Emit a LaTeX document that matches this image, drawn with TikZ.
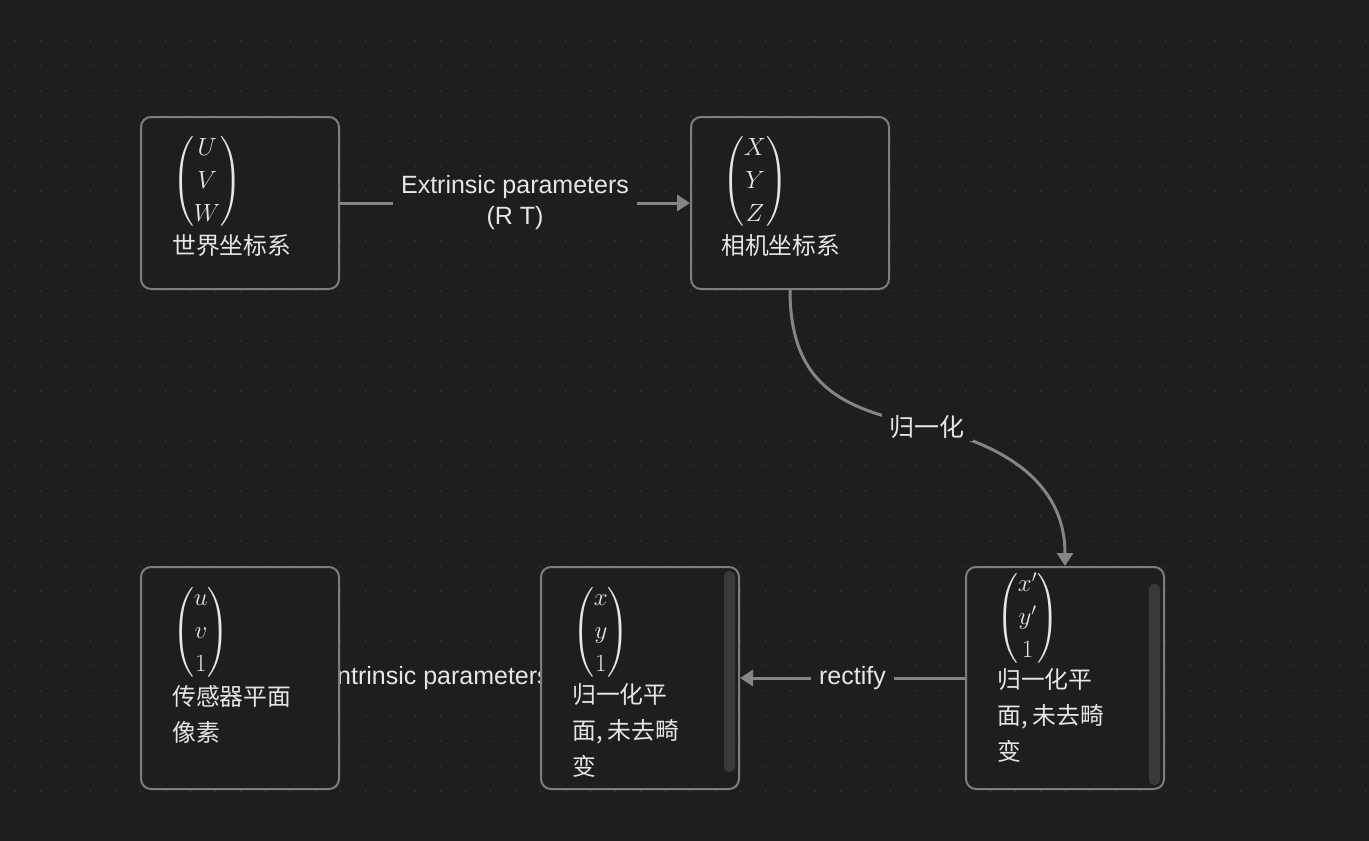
\documentclass[tikz,border=0pt]{standalone}
\usepackage{amsmath}
\usepackage{fontspec}
\setmainfont{Liberation Sans}
\newfontfamily\cjk{Noto Sans CJK SC}
\usetikzlibrary{arrows.meta}
\pgfdeclarelayer{back}
\pgfdeclarelayer{edges}
\pgfsetlayers{back,edges,main}
\definecolor{bgc}{HTML}{1E1E1E}
\definecolor{dotc}{HTML}{333333}
\definecolor{boxc}{HTML}{7E7E7E}
\definecolor{linec}{HTML}{858585}
\definecolor{txtc}{HTML}{E6E6E6}
\definecolor{barc}{HTML}{3A3A3A}
\newcommand\colvec[3]{\delimitershortfall=12pt\relax
  $\begin{pmatrix}#1\\#2\\#3\end{pmatrix}$}
\begin{document}
\begin{tikzpicture}[x=1pt,y=-1pt,line join=round,
    box/.style={draw=boxc,fill=bgc,line width=2pt,rounded corners=10pt,
      minimum width=198pt,minimum height=172pt,inner sep=0pt},
    tallbox/.style={box,minimum height=222pt},
    vecnode/.style={anchor=west,inner sep=0pt,text=txtc,
      font=\fontsize{25}{33}\selectfont},
    boxtext/.style={anchor=north west,inner sep=0pt,align=left,text=txtc,
      font=\cjk\fontsize{23.8}{36}\selectfont},
    link/.style={draw=linec,line width=3pt,-{Triangle[length=13pt,width=16pt]}},
    lbl/.style={fill=bgc,text=txtc,inner xsep=8pt,inner ysep=2pt,align=center,
      font=\fontsize{25}{31}\selectfont}]
  \useasboundingbox (0,0) rectangle (1369,841);
  \begin{pgfonlayer}{back}
    \fill[bgc] (0,0) rectangle (1369,841);
    \foreach \i in {0,...,54}
      \foreach \j in {0,...,32}
        \fill[dotc] (15.5+25*\i,16+25*\j) circle (1.1);
  \end{pgfonlayer}

  % boxes
  \node[box] (world) at (240,203) {};
  \node[box] (cam) at (790,203) {};
  \node[tallbox] (sensor) at (240,678) {};
  \node[tallbox] (norm) at (640,678) {};
  \node[tallbox] (dist) at (1065,678) {};
  \fill[barc,rounded corners=5pt] (724,571) rectangle (735,772);
  \fill[barc,rounded corners=5pt] (1149,584) rectangle (1160,785);

  \node[vecnode] (worldvec) at (172,181.5) {\colvec{U}{V}{W}};
  \node[boxtext] (worldtxt) at (172,229.5) {\strut 世界坐标系};
  \node[vecnode] (camvec) at (722,181.5) {\colvec{X}{Y}{Z}};
  \node[boxtext] (camtxt) at (721,229.5) {\strut 相机坐标系};
  \node[vecnode] (sensorvec) at (172,632) {\colvec{u}{v}{1}};
  \node[boxtext] (sensortxt) at (172,680.5) {\strut 传感器平面\\像素};
  \node[vecnode] (normvec) at (572,632) {\colvec{x}{y}{1}};
  \node[boxtext] (normtxt) at (572,678.5) {\strut 归一化平\\面, 未去畸\\变};
  \node[vecnode] (distvec) at (996,618) {\colvec{x'}{y'}{1}};
  \node[boxtext] (disttxt) at (997,663.5) {\strut 归一化平\\面, 未去畸\\变};

  % connectors
  \begin{pgfonlayer}{edges}
    \draw[link] (world.east) -- (cam.west)
      node[midway,lbl] {Extrinsic parameters\\(R T)};
    \draw[link] (cam.south) .. controls (790,395) and (855,410) .. (927,427)
      node[lbl] {\cjk 归一化}
      .. controls (1000,444) and (1065,480) .. (dist.north);
    \draw[link] (dist.west) -- (norm.east) node[midway,lbl] {rectify};
    \draw[link] (norm.west) -- (sensor.east)
      node[midway,lbl] {Intrinsic parameters};
  \end{pgfonlayer}
\end{tikzpicture}
\end{document}
